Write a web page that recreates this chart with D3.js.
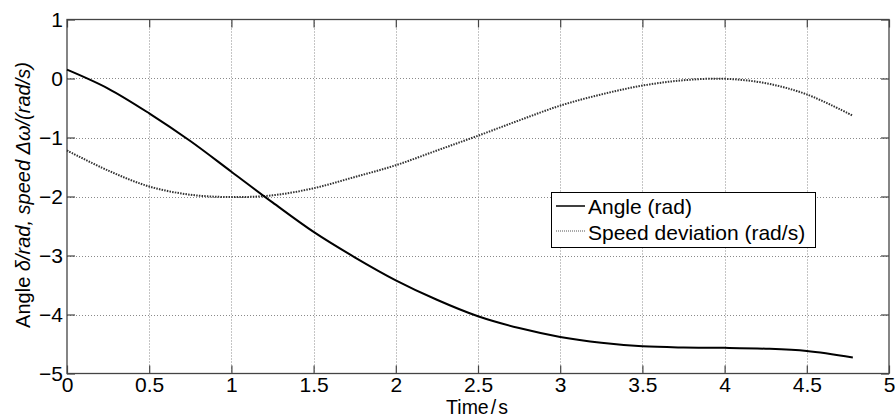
<!DOCTYPE html>
<html><head><meta charset="utf-8">
<script src="https://cdn.jsdelivr.net/npm/d3@7"></script>
<style>body{margin:0;background:#fff}svg{display:block}text{font-family:"Liberation Sans",Arial,sans-serif}</style>
</head><body>
<svg id="c" width="895" height="418"></svg>
<script>
const time = [0, 0.25, 0.5, 0.75, 1, 1.25, 1.5, 1.75, 2, 2.25, 2.5, 2.75, 3, 3.25, 3.5, 3.75, 4, 4.25, 4.5, 4.78];
const angle = [0.15, -0.17, -0.59, -1.06, -1.58, -2.1, -2.6, -3.03, -3.42, -3.75, -4.03, -4.23, -4.38, -4.48, -4.54, -4.56, -4.565, -4.58, -4.62, -4.73];
const speed = [-1.22, -1.56, -1.83, -1.97, -2.01, -1.98, -1.86, -1.67, -1.47, -1.22, -0.97, -0.71, -0.46, -0.27, -0.12, -0.03, -0.005, -0.08, -0.27, -0.63];
const xTicks = [0, 0.5, 1, 1.5, 2, 2.5, 3, 3.5, 4, 4.5, 5];
const xTickLabels = ["0", "0.5", "1", "1.5", "2", "2.5", "3", "3.5", "4", "4.5", "5"];
const yTicks = [1, 0, -1, -2, -3, -4, -5];
const yTickLabels = ["1", "0", "\u22121", "\u22122", "\u22123", "\u22124", "\u22125"];
const seriesNames = ["Angle (rad)", "Speed deviation (rad/s)"];

const L = 67, R = 889, T = 19.5, B = 373.5;
const svg = d3.select("#c");
const x = d3.scaleLinear().domain([0, 5]).range([L, R]);
const y = d3.scaleLinear().domain([-5, 1]).range([B, T]);

// grid
const grid = svg.append("g").attr("stroke", "#8a8a8a").attr("stroke-width", 1).attr("stroke-dasharray", "1,2");
grid.selectAll(".gx").data(xTicks.slice(1, -1)).join("line")
  .attr("x1", d => Math.round(x(d)) + 0.5).attr("x2", d => Math.round(x(d)) + 0.5).attr("y1", T).attr("y2", B);
grid.selectAll(".gy").data(yTicks.slice(1, -1)).join("line")
  .attr("y1", d => Math.round(y(d)) + 0.5).attr("y2", d => Math.round(y(d)) + 0.5).attr("x1", L).attr("x2", R);

// axes with inward ticks
const tl = 8;
const axB = svg.append("g").attr("transform", `translate(0,${B})`)
  .call(d3.axisBottom(x).tickValues(xTicks).tickSize(-tl).tickFormat((d, i) => xTickLabels[i]));
const axT = svg.append("g").attr("transform", `translate(0,${T})`)
  .call(d3.axisTop(x).tickValues(xTicks).tickSize(-tl).tickFormat(""));
const axL = svg.append("g").attr("transform", `translate(${L},0)`)
  .call(d3.axisLeft(y).tickValues(yTicks).tickSize(-tl).tickFormat((d, i) => yTickLabels[i]));
const axR = svg.append("g").attr("transform", `translate(${R},0)`)
  .call(d3.axisRight(y).tickValues(yTicks).tickSize(-tl).tickFormat(""));
[axB, axT, axL, axR].forEach(a => {
  a.select(".domain").remove();
  a.selectAll(".tick line").attr("stroke", "#444").attr("stroke-width", 1.2);
  a.selectAll("text").attr("font-size", 21).attr("fill", "#000").attr("font-family", '"Liberation Sans",Arial,sans-serif');
});
axB.selectAll(".tick text").attr("y", 18.5).attr("dy", null);
axL.selectAll(".tick text").attr("x", -4).attr("dy", "0.35em");

svg.append("rect").attr("x", L).attr("y", T).attr("width", R - L).attr("height", B - T)
  .attr("fill", "none").attr("stroke", "#444").attr("stroke-width", 1.3);

// lines
const pts = v => time.map((t, i) => [t, v[i]]);
const line = d3.line().x(d => x(d[0])).y(d => y(d[1])).curve(d3.curveCatmullRom.alpha(0.5));
svg.append("path").datum(pts(speed)).attr("d", line).attr("fill", "none")
  .attr("stroke", "#333").attr("stroke-width", 2).attr("stroke-dasharray", "1.5,1.2");
svg.append("path").datum(pts(angle)).attr("d", line).attr("fill", "none")
  .attr("stroke", "#000").attr("stroke-width", 2);

// legend
const lg = svg.append("g");
lg.append("rect").attr("x", 551.5).attr("y", 192.5).attr("width", 264).attr("height", 55)
  .attr("fill", "#fff").attr("stroke", "#000").attr("stroke-width", 1);
lg.append("line").attr("x1", 556).attr("x2", 585).attr("y1", 206).attr("y2", 206).attr("stroke", "#000").attr("stroke-width", 1.5);
lg.append("line").attr("x1", 556).attr("x2", 585).attr("y1", 231).attr("y2", 231).attr("stroke", "#555").attr("stroke-width", 1.2).attr("stroke-dasharray", "1,1");
lg.append("text").attr("x", 588).attr("y", 213.5).attr("font-size", 21).text(seriesNames[0]);
lg.append("text").attr("x", 588).attr("y", 239.5).attr("font-size", 21).text(seriesNames[1]);

// axis labels
const xl = svg.append("text").attr("x", 477).attr("y", 414).attr("text-anchor", "middle").attr("font-size", 19.5);
xl.append("tspan").text("Time");
xl.append("tspan").attr("dx", 2).text("/");
xl.append("tspan").attr("dx", 2).text("s");

const yl = svg.append("text").attr("transform", "translate(30,195) rotate(-90)").attr("text-anchor", "middle").attr("font-size", 20);
yl.append("tspan").text("Angle ");
yl.append("tspan").attr("font-style", "italic").text("\u03b4/rad, speed \u0394\u03c9/(rad/s)");
</script>
</body></html>
